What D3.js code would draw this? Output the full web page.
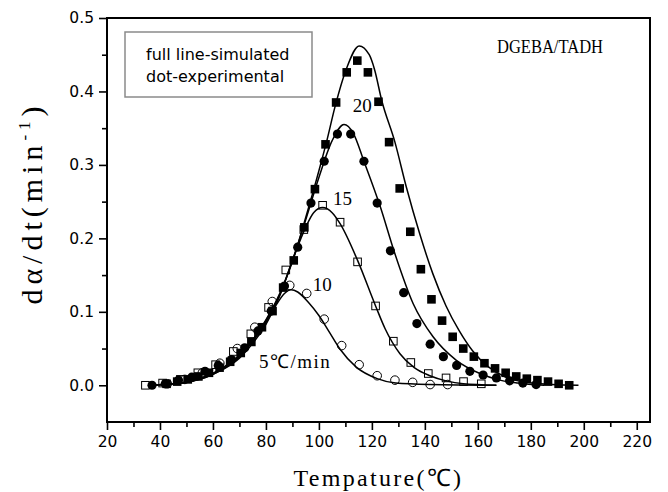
<!DOCTYPE html>
<html>
<head>
<meta charset="utf-8">
<script src="https://cdn.jsdelivr.net/npm/d3@7"></script>
<style>
  body { margin: 0; background: #fff; }
  svg { display: block; }
</style>
</head>
<body>
<div id="chart"></div>
<script>
// experimental points
const exp5T = [42.8, 49.4, 56, 62.6, 69.2, 75.8, 82.4, 89, 95.4, 102, 108.6, 115.2, 122, 128.7, 135.4, 142, 148.6];
const exp5V = [0.002, 0.008, 0.017, 0.030, 0.050, 0.079, 0.114, 0.136, 0.125, 0.090, 0.054, 0.028, 0.013, 0.007, 0.004, 0.001, 0.001];

const exp10T = [34.5, 41, 47.7, 54.3, 61, 67.7, 74.3, 81, 87.5, 94.3, 101.4, 108, 114.6, 121.4, 128.1, 134.7, 141.3, 148, 154.6, 161.3];
const exp10V = [0.000, 0.003, 0.008, 0.017, 0.028, 0.046, 0.070, 0.106, 0.157, 0.212, 0.245, 0.222, 0.168, 0.108, 0.060, 0.031, 0.016, 0.010, 0.005, 0.002];

const exp15T = [37, 42, 47, 52, 57, 62, 67, 72, 77, 82, 87, 92, 97, 102, 107, 112, 117, 122, 127, 132, 137, 142, 147, 152, 157, 162, 167, 172, 177, 182];
const exp15V = [0.000, 0.002, 0.007, 0.011, 0.019, 0.027, 0.035, 0.051, 0.074, 0.101, 0.135, 0.188, 0.248, 0.305, 0.342, 0.342, 0.305, 0.248, 0.183, 0.126, 0.084, 0.056, 0.039, 0.027, 0.019, 0.014, 0.010, 0.006, 0.003, 0.001];

const exp20T = [42.5, 46.5, 50.5, 54.5, 58.5, 62.5, 66.5, 70.5, 74.5, 78.5, 82.5, 86.5, 90.5, 94.5, 98.5, 102.5, 106.5, 110.5, 114.5, 118.5, 122.5, 126.5, 130.5, 134.5, 138.5, 142.5, 146.5, 150.5, 154.5, 158.5, 162.5, 166.5, 170.5, 174.5, 178.5, 182.5, 186.5, 190.5, 194.5];
const exp20V = [0.002, 0.005, 0.008, 0.012, 0.017, 0.024, 0.032, 0.044, 0.059, 0.079, 0.101, 0.133, 0.170, 0.215, 0.267, 0.328, 0.385, 0.426, 0.442, 0.426, 0.386, 0.331, 0.268, 0.209, 0.158, 0.117, 0.088, 0.066, 0.050, 0.039, 0.030, 0.023, 0.017, 0.012, 0.009, 0.007, 0.005, 0.002, 0.000];

// simulated curves
const sim5T = [37, 45, 50, 55, 60, 65, 70, 75, 80, 84, 87, 89.5, 92, 96, 100, 104, 108, 114, 122, 129, 142, 167];
const sim5V = [0, 0.002, 0.004, 0.008, 0.015, 0.024, 0.037, 0.057, 0.083, 0.110, 0.125, 0.130, 0.127, 0.113, 0.095, 0.072, 0.049, 0.025, 0.009, 0.003, 0.001, 0];

const sim10T = [37, 45, 50, 55, 60, 65, 70, 75, 80, 85, 90, 95, 98, 101.4, 105, 108, 114.6, 121.4, 125, 130.6, 136, 141.9, 148, 154.5, 167];
const sim10V = [0, 0.002, 0.004, 0.008, 0.015, 0.025, 0.039, 0.060, 0.086, 0.120, 0.170, 0.215, 0.235, 0.242, 0.235, 0.220, 0.170, 0.108, 0.077, 0.043, 0.024, 0.013, 0.006, 0.002, 0];

const sim15T = [37, 45, 50, 55, 60, 65, 70, 75, 80, 85, 90, 95, 100, 105, 109.5, 113, 117, 123, 128.7, 135.6, 143.1, 151.9, 160.8, 168.3, 175, 185];
const sim15V = [0, 0.002, 0.004, 0.009, 0.016, 0.026, 0.040, 0.061, 0.088, 0.122, 0.170, 0.225, 0.283, 0.333, 0.355, 0.343, 0.305, 0.245, 0.179, 0.111, 0.066, 0.034, 0.016, 0.007, 0.003, 0];

const sim20T = [37, 45, 50, 55, 60, 65, 70, 75, 80, 85, 90, 95, 100, 103, 106, 110.5, 115.2, 119, 121, 123.7, 128.7, 133, 138, 143, 148, 153, 158, 164, 170, 178, 188, 198];
const sim20V = [0, 0.002, 0.004, 0.009, 0.016, 0.027, 0.041, 0.062, 0.089, 0.123, 0.168, 0.228, 0.292, 0.333, 0.378, 0.432, 0.462, 0.450, 0.430, 0.388, 0.331, 0.270, 0.207, 0.152, 0.108, 0.074, 0.047, 0.025, 0.012, 0.004, 0.001, 0];

const xTicks = [20, 40, 60, 80, 100, 120, 140, 160, 180, 200, 220];
const xMinor = [30, 50, 70, 90, 110, 130, 150, 170, 190, 210];
const yTicks = [0, 0.1, 0.2, 0.3, 0.4, 0.5];
const yMinor = [0.05, 0.15, 0.25, 0.35, 0.45];

const width = 668, height = 492,
    margin = { top: 18, right: 18, bottom: 70, left: 107 };

const svg = d3.select("#chart").append("svg")
    .attr("width", width)
    .attr("height", height);

const x = d3.scaleLinear().domain([20, 225]).range([margin.left, width - margin.right]);
const y = d3.scaleLinear().domain([-0.05, 0.5]).range([height - margin.bottom, margin.top]);

const zip = (ts, vs) => ts.map((t, i) => ({ t: t, v: vs[i] }));

// axes
svg.append("g").attr("transform", `translate(0,${y(-0.05)})`)
    .call(d3.axisBottom(x).tickValues(xTicks).tickSize(8).tickPadding(6).tickFormat(d3.format("d")));
svg.append("g").attr("transform", `translate(0,${y(-0.05)})`)
    .call(d3.axisBottom(x).tickValues(xMinor).tickSize(5).tickFormat(""));
svg.append("g").attr("transform", `translate(${x(20)},0)`)
    .call(d3.axisLeft(y).tickValues(yTicks).tickSize(8).tickPadding(5).tickFormat(d3.format(".1f")));
svg.append("g").attr("transform", `translate(${x(20)},0)`)
    .call(d3.axisLeft(y).tickValues(yMinor).tickSize(5).tickFormat(""));

svg.selectAll(".domain").remove();
svg.selectAll(".tick line").attr("stroke", "#000").attr("stroke-width", 1.6);
svg.selectAll(".tick text")
    .attr("font-family", "DejaVu Sans")
    .attr("font-size", 15.5)
    .attr("fill", "#000");

// frame
svg.append("rect")
    .attr("x", x(20)).attr("y", y(0.5))
    .attr("width", x(225) - x(20)).attr("height", y(-0.05) - y(0.5))
    .attr("fill", "none").attr("stroke", "#000").attr("stroke-width", 2);

// simulated lines
const line = d3.line().x(d => x(d.t)).y(d => y(d.v)).curve(d3.curveMonotoneX);
[[sim5T, sim5V], [sim10T, sim10V], [sim15T, sim15V], [sim20T, sim20V]].forEach(s => {
    svg.append("path")
        .datum(zip(s[0], s[1]))
        .attr("d", line)
        .attr("fill", "none")
        .attr("stroke", "#000")
        .attr("stroke-width", 1.5);
});

// experimental markers
svg.append("g").selectAll("circle")
    .data(zip(exp5T, exp5V))
    .join("circle")
    .attr("cx", d => x(d.t)).attr("cy", d => y(d.v)).attr("r", 4.3)
    .attr("fill", "none").attr("stroke", "#000").attr("stroke-width", 1);

svg.append("g").selectAll("rect")
    .data(zip(exp10T, exp10V))
    .join("rect")
    .attr("x", d => x(d.t) - 3.8).attr("y", d => y(d.v) - 3.8)
    .attr("width", 7.6).attr("height", 7.6)
    .attr("fill", "none").attr("stroke", "#000").attr("stroke-width", 1);

svg.append("g").selectAll("circle")
    .data(zip(exp15T, exp15V))
    .join("circle")
    .attr("cx", d => x(d.t)).attr("cy", d => y(d.v)).attr("r", 4.6)
    .attr("fill", "#000");

svg.append("g").selectAll("rect")
    .data(zip(exp20T, exp20V))
    .join("rect")
    .attr("x", d => x(d.t) - 4.3).attr("y", d => y(d.v) - 4.3)
    .attr("width", 8.6).attr("height", 8.6)
    .attr("fill", "#000");

// curve labels
const serif = "Liberation Serif";
const curveLabels = [
    { text: "20", t: 112.8, v: 0.372 },
    { text: "15", t: 105.3, v: 0.245 },
    { text: "10", t: 97.7, v: 0.129 },
    { text: "5℃/min", t: 77.4, v: 0.023 }
];
svg.append("g").selectAll("text")
    .data(curveLabels)
    .join("text")
    .attr("x", d => x(d.t)).attr("y", d => y(d.v))
    .attr("font-family", serif).attr("font-size", 19)
    .attr("letter-spacing", d => d.text.length > 2 ? 1.5 : 0)
    .text(d => d.text);

svg.append("text")
    .attr("x", 497).attr("y", 53)
    .attr("font-family", serif).attr("font-size", 18)
    .attr("textLength", 106).attr("lengthAdjust", "spacingAndGlyphs")
    .text("DGEBA/TADH");

// legend box
svg.append("rect")
    .attr("x", 125).attr("y", 32).attr("width", 187).attr("height", 65)
    .attr("fill", "#fff").attr("stroke", "#8a8a8a").attr("stroke-width", 1.5);
svg.append("text").attr("x", 146).attr("y", 59.5)
    .attr("font-family", "DejaVu Sans").attr("font-size", 16)
    .text("full line-simulated");
svg.append("text").attr("x", 146).attr("y", 82)
    .attr("font-family", "DejaVu Sans").attr("font-size", 16)
    .text("dot-experimental");

// axis titles
svg.append("text")
    .attr("x", (x(20) + x(225)) / 2).attr("y", 486)
    .attr("text-anchor", "middle")
    .attr("font-family", serif).attr("font-size", 24)
    .attr("letter-spacing", 2.3)
    .text("Tempature(℃)");

const yt = svg.append("text")
    .attr("transform", "translate(42,203) rotate(-90)")
    .attr("text-anchor", "middle")
    .attr("font-family", serif).attr("font-size", 30)
    .attr("letter-spacing", 5);
yt.append("tspan").text("dα/dt(min");
yt.append("tspan").attr("font-size", 17).attr("dy", -12).text("-1");
yt.append("tspan").attr("dy", 12).text(")");
</script>
</body>
</html>
